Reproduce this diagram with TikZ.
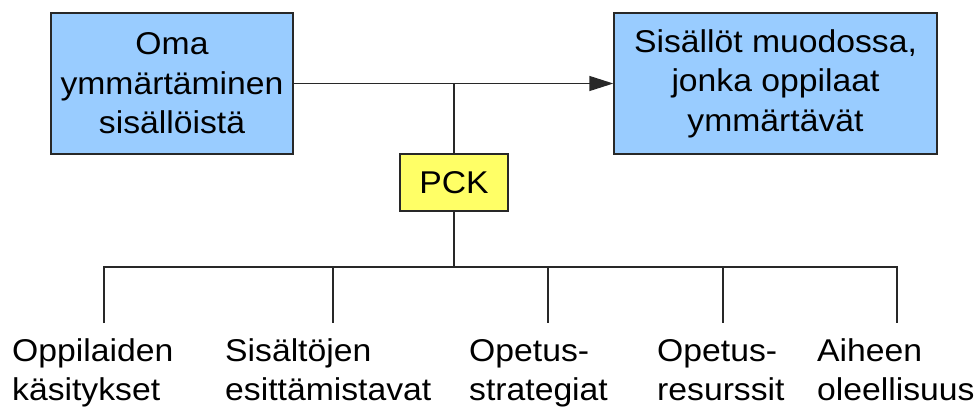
\documentclass[tikz,border=0pt]{standalone}
\usepackage{fontspec}
\setmainfont[FakeStretch=1.07]{Liberation Sans}
\usetikzlibrary{arrows.meta}
\definecolor{boxblue}{RGB}{153,204,255}
\definecolor{boxyellow}{RGB}{255,255,102}
\definecolor{edge}{RGB}{40,40,40}
\tikzset{
  bluebox/.style={draw=edge, line width=1.4pt, fill=boxblue, align=center, inner sep=0pt,
    minimum height=141pt, font=\fontsize{31.5}{39.5}\selectfont},
  pckbox/.style={draw=edge, line width=1.4pt, fill=boxyellow, inner sep=0pt,
    minimum width=108pt, minimum height=57pt, font=\fontsize{31.5}{39.5}\selectfont},
  leaf/.style={align=left, inner sep=0pt, anchor=base west, font=\fontsize{31.5}{38.5}\selectfont},
  conn/.style={draw=edge, line width=1.4pt},
}
\begin{document}
\begin{tikzpicture}[x=1pt,y=-1pt]
\useasboundingbox (0,0) rectangle (977,407);
\node[bluebox, minimum width=242pt] (own) at (172,83.5) {Oma\\ymmärtäminen\\sisällöistä};
\node[bluebox, minimum width=323pt] (form) at (775.5,83.5) {Sisällöt muodossa,\\jonka oppilaat\\ymmärtävät};
\node[pckbox] (pck) at (454,182.5) {PCK};
\coordinate (j) at (pck.north |- own.east);
\coordinate (bar) at (454,267);
\coordinate (d1) at (104,323);
\coordinate (d2) at (333,323);
\coordinate (d3) at (548,323);
\coordinate (d4) at (723,323);
\coordinate (d5) at (897,323);
\node[leaf] (l1) at (12,400) {Oppilaiden\\käsitykset};
\node[leaf] (l2) at (225,400) {Sisältöjen\\esittämistavat};
\node[leaf] (l3) at (469,400) {Opetus-\\strategiat};
\node[leaf] (l4) at (657,400) {Opetus-\\resurssit};
\node[leaf] (l5) at (817,400) {Aiheen\\oleellisuus};
\draw[conn, -{Triangle[length=24pt,width=15pt]}] (own.east) -- (form.west);
\draw[conn] (j) -- (pck.north);
\draw[conn] (pck.south) -- (bar);
\draw[conn] (d1) |- (bar) -| (d5);
\draw[conn] (d2 |- bar) -- (d2);
\draw[conn] (d3 |- bar) -- (d3);
\draw[conn] (d4 |- bar) -- (d4);
\end{tikzpicture}
\end{document}
